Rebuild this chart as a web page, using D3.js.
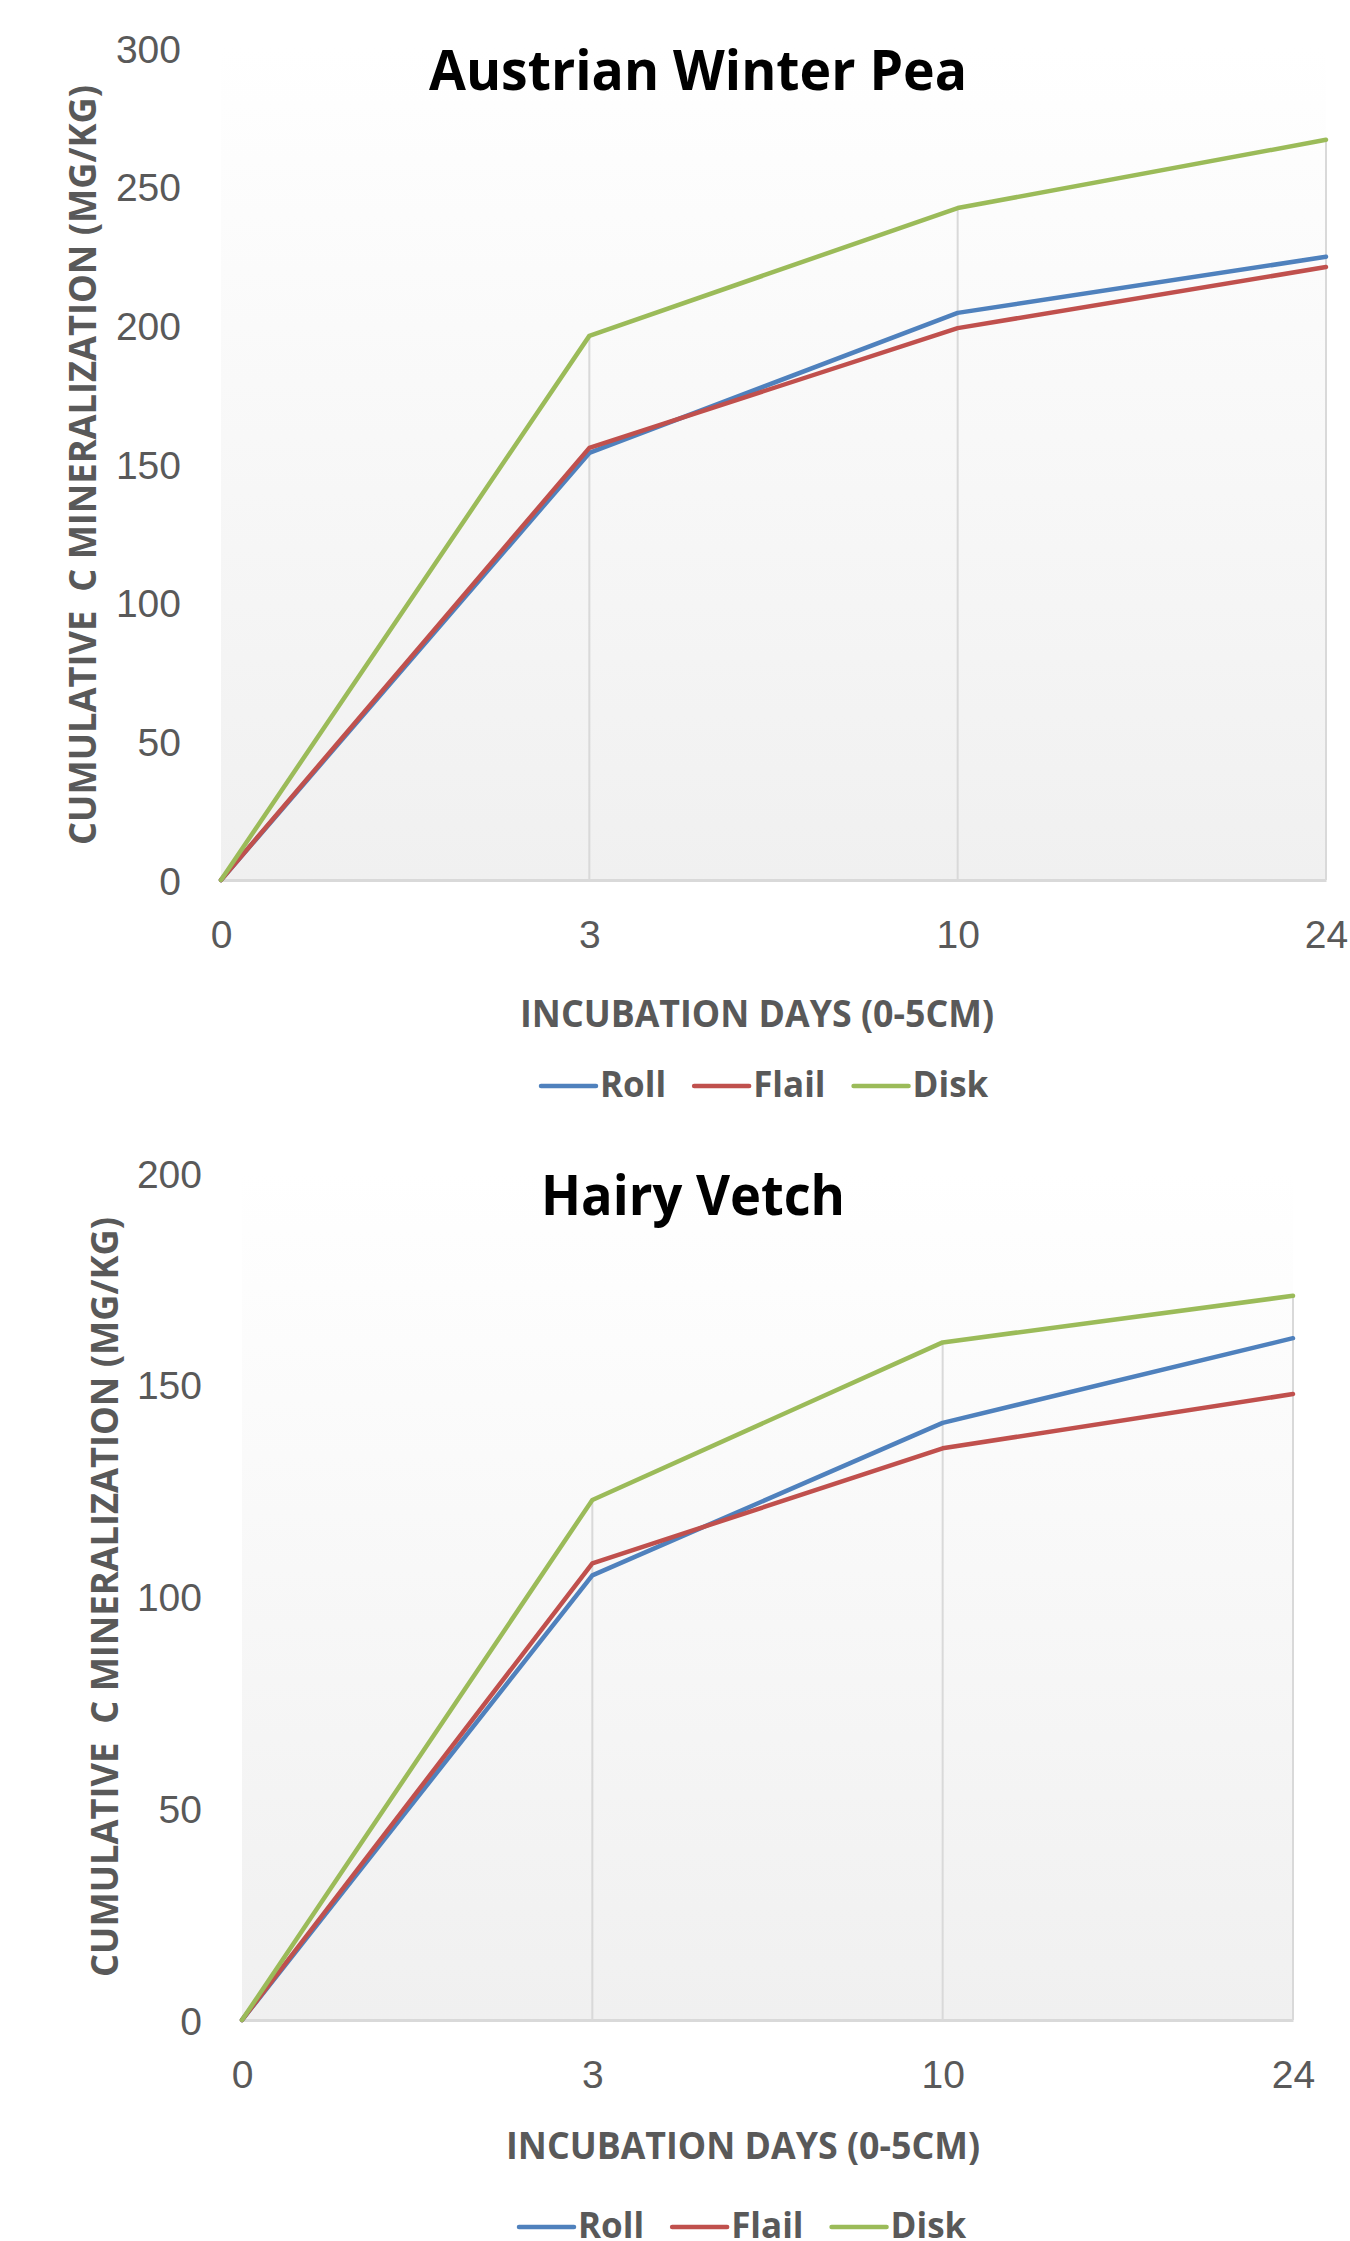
<!DOCTYPE html>
<html>
<head>
<meta charset="utf-8">
<script src="https://cdn.jsdelivr.net/npm/d3@7"></script>
<style>
  body { margin: 0; background: #fff; }
  svg { display: block; font-family: "Open Sans", "Noto Sans", sans-serif; }
</style>
</head>
<body>
<div id="chart"></div>
<script>
// 数据：横轴为培养天数，三种处理
const days = ["0", "3", "10", "24"];
const seriesNames = ["Roll", "Flail", "Disk"];
const seriesColors = ["#4f81bd", "#c0504d", "#9bbb59"];

// Austrian Winter Pea
const peaRoll = [0, 154, 204.5, 224.7];
const peaFlail = [0, 155.8, 199, 221];
const peaDisk = [0, 196.2, 242.3, 266.9];
const peaTicks = [0, 50, 100, 150, 200, 250, 300];

// Hairy Vetch
const vetchRoll = [0, 105, 141, 161];
const vetchFlail = [0, 107.8, 135, 147.8];
const vetchDisk = [0, 122.8, 160, 171];
const vetchTicks = [0, 50, 100, 150, 200];

const W = 1350, H = 2241;
const svg = d3.select('#chart').append('svg')
    .attr('width', W)
    .attr('height', H);

const defs = svg.append('defs');
const grad = defs.append('linearGradient')
    .attr('id', 'plotBg')
    .attr('x1', 0).attr('y1', 0).attr('x2', 0).attr('y2', 1);
grad.append('stop').attr('offset', '0%').attr('stop-color', '#ffffff');
grad.append('stop').attr('offset', '100%').attr('stop-color', '#f0f0f0');

function drawChart(opt) {
    const x = d3.scalePoint().domain(days).range([opt.left, opt.right]);
    const y = d3.scaleLinear().domain([0, opt.ticks[opt.ticks.length - 1]])
        .range([opt.bottom, opt.top]);

    const g = svg.append('g');

    // 绘图区背景
    g.append('rect')
        .attr('x', opt.left)
        .attr('y', opt.top)
        .attr('width', opt.right - opt.left)
        .attr('height', opt.bottom - opt.top)
        .attr('fill', 'url(#plotBg)');

    // 垂直线：从最高点落到横轴
    const maxes = days.map((d, i) => d3.max(opt.values, s => s[i]));
    g.selectAll('.drop')
        .data(days.filter((d, i) => maxes[i] > 0))
        .enter()
        .append('line')
        .attr('x1', d => x(d))
        .attr('x2', d => x(d))
        .attr('y1', d => y(maxes[days.indexOf(d)]))
        .attr('y2', y(0))
        .attr('stroke', '#d9d9d9')
        .attr('stroke-width', 2);

    // 横轴
    const xAxis = g.append('g')
        .attr('transform', `translate(0,${y(0)})`)
        .call(d3.axisBottom(x).tickSize(0).tickSizeOuter(0).tickPadding(40));
    xAxis.select('.domain').attr('stroke', '#d9d9d9').attr('stroke-width', 3);
    xAxis.selectAll('text')
        .attr('fill', '#595959')
        .style('font-size', '39px');

    // 纵轴
    const yAxis = g.append('g')
        .attr('transform', `translate(${opt.left},0)`)
        .call(d3.axisLeft(y).tickValues(opt.ticks).tickSize(0).tickPadding(opt.tickPad));
    yAxis.select('.domain').remove();
    yAxis.selectAll('text')
        .attr('fill', '#595959')
        .attr('dy', '0.36em')
        .style('font-size', '39px');

    // 折线
    const line = d3.line()
        .x((d, i) => x(days[i]))
        .y(d => y(d));
    g.selectAll('.series')
        .data(opt.values)
        .enter()
        .append('path')
        .attr('d', d => line(d))
        .attr('fill', 'none')
        .attr('stroke', (d, i) => seriesColors[i])
        .attr('stroke-width', 4.5)
        .attr('stroke-linejoin', 'round')
        .attr('stroke-linecap', 'round');

    // 标题
    g.append('text')
        .attr('x', opt.titleX)
        .attr('y', opt.titleY)
        .attr('text-anchor', 'middle')
        .attr('textLength', opt.titleLen)
        .attr('lengthAdjust', 'spacingAndGlyphs')
        .style('font-size', '56px')
        .style('font-weight', 'bold')
        .attr('fill', '#000')
        .text(opt.title);

    // 横轴标题
    g.append('text')
        .attr('x', opt.xTitleX)
        .attr('y', opt.xTitleY)
        .attr('text-anchor', 'middle')
        .attr('textLength', 474)
        .attr('lengthAdjust', 'spacingAndGlyphs')
        .style('font-size', '38px')
        .style('font-weight', 'bold')
        .attr('fill', '#595959')
        .text('INCUBATION DAYS (0-5CM)');

    // 纵轴标题
    g.append('text')
        .attr('transform', `translate(${opt.yTitleX},${opt.yTitleY}) rotate(-90)`)
        .attr('text-anchor', 'middle')
        .attr('textLength', 760)
        .attr('lengthAdjust', 'spacingAndGlyphs')
        .attr('xml:space', 'preserve')
        .style('white-space', 'pre')
        .style('font-size', '38px')
        .style('font-weight', 'bold')
        .attr('fill', '#595959')
        .text('CUMULATIVE  C MINERALIZATION (MG/KG)');

    // 图例
    const legend = g.append('g').attr('transform', `translate(${opt.legendX},${opt.legendY})`);
    let cx = 0;
    seriesNames.forEach((name, i) => {
        legend.append('line')
            .attr('x1', cx).attr('x2', cx + 55)
            .attr('y1', 0).attr('y2', 0)
            .attr('stroke', seriesColors[i])
            .attr('stroke-width', 4.5)
            .attr('stroke-linecap', 'round');
        const t = legend.append('text')
            .attr('x', cx + 59)
            .attr('y', 11)
            .style('font-size', '35px')
            .style('font-weight', 'bold')
            .attr('fill', '#595959')
            .text(name);
        cx += 59 + t.node().getComputedTextLength() + 28;
    });
}

drawChart({
    values: [peaRoll, peaFlail, peaDisk],
    ticks: peaTicks,
    left: 221, right: 1326, top: 48, bottom: 880,
    tickPad: 40,
    title: 'Austrian Winter Pea', titleX: 698, titleY: 90, titleLen: 538,
    xTitleX: 757, xTitleY: 1027,
    yTitleX: 96, yTitleY: 465,
    legendX: 541, legendY: 1086
});

drawChart({
    values: [vetchRoll, vetchFlail, vetchDisk],
    ticks: vetchTicks,
    left: 242, right: 1293, top: 1173, bottom: 2020,
    tickPad: 40,
    title: 'Hairy Vetch', titleX: 693, titleY: 1215, titleLen: 304,
    xTitleX: 743, xTitleY: 2159,
    yTitleX: 118, yTitleY: 1597,
    legendX: 519, legendY: 2227
});
</script>
</body>
</html>
